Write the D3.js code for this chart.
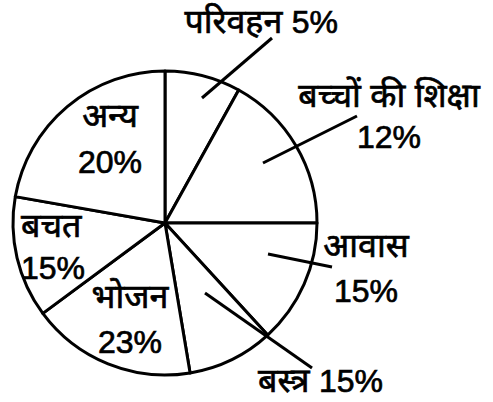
<!DOCTYPE html>
<html>
<head>
<meta charset="utf-8">
<script src="https://cdn.jsdelivr.net/npm/d3@7"></script>
<style>
  html, body { margin: 0; padding: 0; background: #fff; }
  svg { display: block; }
  text { font-family: "Liberation Sans", Arial, "Noto Sans Devanagari", "Lohit Devanagari", "FreeSans", sans-serif; fill: #000; stroke: #000; stroke-width: 0.7px; }
</style>
</head>
<body>
<script>
// ---- data ----
const categories = ["परिवहन", "बच्चों की शिक्षा", "आवास", "बस्त्र", "भोजन", "बचत", "अन्य"];
const percentLabels = [5, 12, 15, 15, 23, 15, 20];          // printed percentages
const drawnShares = [29, 61, 47.5, 33, 63, 46.5, 80];        // slice sizes as drawn (degrees)

// ---- layout ----
const W = 493, H = 402;
const cx = 165, cy = 223, R = 152;
const hindiSize = 34, numSize = 32;

// label layout per slice: inline => name and percent on one line
const labelLayout = [
  { inline: true, anchor: "end", x: 338, y: [33] },
  { inline: false, anchor: "middle", x: 389, y: [107, 148] },
  { inline: false, anchor: "middle", x: 366, y: [257, 302] },
  { inline: true, anchor: "end", x: 383, y: [392] },
  { inline: false, anchor: "middle", x: 130, y: [308, 353] },
  { inline: false, anchor: "start", x: 21, y: [237, 279] },
  { inline: false, anchor: "middle", x: 110, y: [127, 173] }
];
// leader lines (offsets from pie centre) for slices labelled outside
const leaders = [
  { from: [37, -125], to: [107, -185] },
  { from: [98, -60], to: [192, -107] },
  { from: [103, 31], to: [167, 44] },
  { from: [40, 70], to: [147, 145] }
];

const svg = d3.select("body").append("svg").attr("width", W).attr("height", H);
const g = svg.append("g").attr("transform", `translate(${cx},${cy})`);

const pie = d3.pie().sort(null).value(d => d).startAngle(0).endAngle(2 * Math.PI);
const arc = d3.arc().innerRadius(0).outerRadius(R);

g.selectAll("path.slice")
  .data(pie(drawnShares))
  .join("path")
  .attr("class", "slice")
  .attr("d", arc)
  .attr("fill", "#fff")
  .attr("stroke", "#000")
  .attr("stroke-width", 3)
  .attr("stroke-linejoin", "round");

g.selectAll("line.leader")
  .data(leaders)
  .join("line")
  .attr("class", "leader")
  .attr("x1", d => d.from[0]).attr("y1", d => d.from[1])
  .attr("x2", d => d.to[0]).attr("y2", d => d.to[1])
  .attr("stroke", "#000")
  .attr("stroke-width", 3);

labelLayout.forEach((l, i) => {
  const name = categories[i], pct = percentLabels[i] + "%";
  if (l.inline) {
    const t = svg.append("text").attr("x", l.x).attr("y", l.y[0]).attr("text-anchor", l.anchor);
    t.append("tspan").attr("font-size", hindiSize).text(name + " ");
    t.append("tspan").attr("font-size", numSize).text(pct);
  } else {
    svg.append("text").attr("x", l.x).attr("y", l.y[0]).attr("text-anchor", l.anchor)
      .attr("font-size", hindiSize).text(name);
    svg.append("text").attr("x", l.x).attr("y", l.y[1]).attr("text-anchor", l.anchor)
      .attr("font-size", numSize).text(pct);
  }
});
</script>
</body>
</html>
